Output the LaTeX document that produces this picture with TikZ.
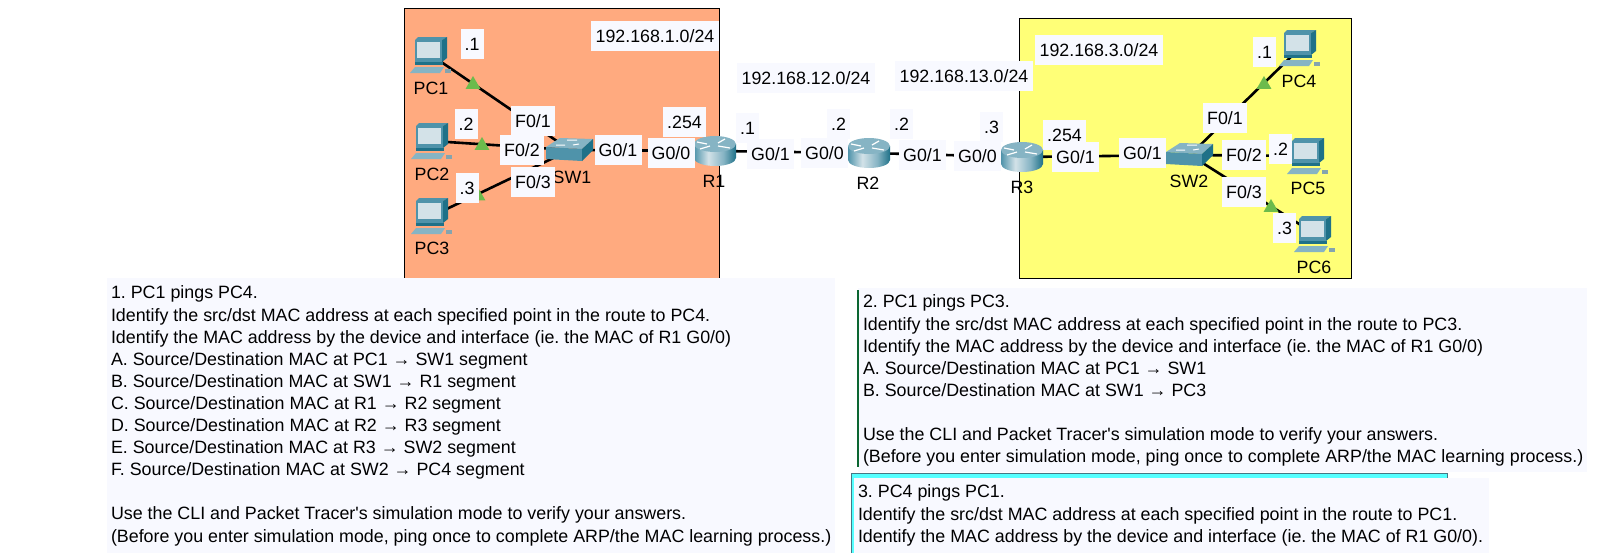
\documentclass[tikz,border=0pt]{standalone}
\usepackage{fontspec}
\setmainfont{Liberation Sans}
\usetikzlibrary{shapes.geometric}
\definecolor{OrangeClr}{HTML}{FFAA7F}
\definecolor{YellowClr}{HTML}{FFFF77}
\definecolor{PanelClr}{HTML}{F8F9FF}
\definecolor{CyanClr}{HTML}{55FFFF}
\definecolor{UpClr}{HTML}{6CBB4C}
\definecolor{TealDk}{HTML}{1F7188}
\definecolor{TealMd}{HTML}{4F93AA}
\definecolor{TealLt}{HTML}{86B4C4}
\definecolor{ScreenClr}{HTML}{D3E2E8}
\pgfdeclarehorizontalshading{routerbody}{100bp}{color(0bp)=(TealMd); color(25bp)=(TealMd); color(42bp)=(ScreenClr); color(60bp)=(TealLt); color(75bp)=(TealDk); color(100bp)=(TealDk)}
\tikzset{
  pcicon/.pic={
    \fill[TealMd] (-16,-15) -- (-13,-18) -- (16,-18) -- (11,-15) -- cycle;
    \fill[TealDk] (11,-15) -- (16,-18) -- (16,3) -- (11,7) -- cycle;
    \fill[TealMd] (-16,-15) rectangle (11,7);
    \fill[ScreenClr] (-14,-13) rectangle (9,3);
    \fill[TealDk] (-16,7) -- (12,7) -- (12,10) -- (-16,10) -- cycle;
    \fill[TealLt] (-16,12) -- (13,12) -- (9,18) -- (-21,18) -- cycle;
    \fill[TealLt!70!gray] (14,14) rectangle (20,18);
  },
  routericon/.pic={
    \shade[shading=routerbody] (-21,-7) -- (-21,7) arc[start angle=180,end angle=0,x radius=21,y radius=8] -- (21,-7) -- cycle;
    \fill[TealLt] (0,-7) ellipse[x radius=21,y radius=8];
    \draw[white,line width=1.2pt] (-18,-9) -- (-8,-7) (3,-8) -- (10,-12) (-15,-2) -- (-5,-5) (3,-5) -- (15,-3);
  },
  switchicon/.pic={
    \fill[TealLt] (-24,-3) -- (-10,-12) -- (23,-11) -- (12,-1) -- cycle;
    \fill[TealMd] (-24,-3) -- (12,-1) -- (12,11) -- (-24,9) -- cycle;
    \fill[TealDk] (12,-1) -- (23,-11) -- (23,0) -- (12,11) -- cycle;
    \draw[white,line width=1pt] (-3,-10) -- (7,-10) (-14,-5) -- (-5,-5) (3,-5) -- (9,-6);
  }
}

\begin{document}
\begin{tikzpicture}[x=1pt,y=-1pt,
  every node/.style={inner sep=0pt,outer sep=0pt,font=\fontsize{17.8}{20}\selectfont},
  lanbox/.style={draw=black,line width=1pt,anchor=north west},
  panel/.style={fill=PanelClr,anchor=north west},
  tasktext/.style={anchor=north west,align=left,font=\fontsize{17.85}{22.1}\selectfont\frenchspacing},
  devspot/.style={minimum size=6pt},
  link/.style={line width=2.6pt,color=black},
  linkup/.style={regular polygon,regular polygon sides=3,minimum size=17pt,fill=UpClr},
  tag/.style={fill=PanelClr,minimum height=30pt},
  iptag/.style={tag,minimum width=23pt},
  porttag/.style={tag,minimum width=44pt},
  gigtag/.style={tag,minimum width=47pt},
  nettag/.style={tag,minimum width=128pt}]
\useasboundingbox (0,0) rectangle (1600,552);

% the two LANs
\node[lanbox,fill=OrangeClr,minimum width=315pt,minimum height=285pt] (lanA) at (404,8) {};
\node[lanbox,fill=YellowClr,minimum width=332pt,minimum height=260pt] (lanC) at (1019,18) {};

% devices, links go underneath
\node[devspot] (PC1) at (431,55) {};
\node[devspot] (PC2) at (432,141) {};
\node[devspot] (PC3) at (432,216) {};
\node[devspot] (SW1) at (570,150) {};
\node[devspot] (R1) at (715,151) {};
\node[devspot] (R2) at (869,153) {};
\node[devspot] (R3) at (1022,157) {};
\node[devspot] (SW2) at (1190,155) {};
\node[devspot] (PC4) at (1300,48) {};
\node[devspot] (PC5) at (1308,156) {};
\node[devspot] (PC6) at (1315,234) {};

\draw[link] (PC1) -- (SW1);
\draw[link] (PC2) -- (SW1);
\draw[link] (PC3) -- (SW1);
\draw[link] (SW1) -- (R1);
\draw[link] (R1) -- (R2);
\draw[link] (R2) -- (R3);
\draw[link] (R3) -- (SW2);
\draw[link] (SW2) -- (PC4);
\draw[link] (SW2) -- (PC5);
\draw[link] (SW2) -- (PC6);

\node[linkup] (up1) at (473,84.5) {};
\node[linkup] (up2) at (482,145.5) {};
\node[linkup] (up3) at (478,196) {};
\node[linkup] (up4) at (1264,84.5) {};
\node[linkup] (up6) at (1271,207.5) {};

\pic at (PC1) {pcicon};
\pic at (PC2) {pcicon};
\pic at (PC3) {pcicon};
\pic at (PC4) {pcicon};
\pic at (PC5) {pcicon};
\pic at (PC6) {pcicon};
\pic at (SW1) {switchicon};
\pic at (SW2) {switchicon};
\pic at (R1) {routericon};
\pic at (R2) {routericon};
\pic at (R3) {routericon};

% device names
\node (namePC1) at (431,88) {PC1};
\node (namePC2) at (432,174) {PC2};
\node (namePC3) at (432,248) {PC3};
\node (nameSW1) at (572,177) {SW1};
\node (nameR1) at (714,181) {R1};
\node (nameR2) at (868,183) {R2};
\node (nameR3) at (1022,187) {R3};
\node (nameSW2) at (1189,181) {SW2};
\node (namePC4) at (1299,81) {PC4};
\node (namePC5) at (1308,188) {PC5};
\node (namePC6) at (1314,267) {PC6};

% address and port tags
\node[nettag] (netA) at (655,36) {192.168.1.0/24};
\node[nettag,minimum width=138pt] (netB) at (806,78) {192.168.12.0/24};
\node[nettag,minimum width=138pt] (netD) at (964,76) {192.168.13.0/24};
\node[nettag] (netC) at (1099,50) {192.168.3.0/24};

\node[iptag] (ipPC1) at (472,44) {.1};
\node[iptag] (ipPC2) at (466,124) {.2};
\node[iptag] (ipPC3) at (467,188) {.3};
\node[iptag,minimum width=43pt] (ipRa) at (684.5,122) {.254};
\node[iptag] (ipRb) at (747.5,128) {.1};
\node[iptag] (ipRc) at (838.5,124) {.2};
\node[iptag] (ipRd) at (901.5,124) {.2};
\node[iptag] (ipRe) at (991.5,127) {.3};
\node[iptag,minimum width=43pt] (ipRf) at (1064.5,135) {.254};
\node[iptag] (ipPC4) at (1264.5,52) {.1};
\node[iptag] (ipPC5) at (1280.5,149) {.2};
\node[iptag] (ipPC6) at (1284.5,228) {.3};

\node[porttag] (swAa) at (533,121) {F0/1};
\node[porttag] (swAb) at (522,150) {F0/2};
\node[porttag] (swAc) at (533,182) {F0/3};
\node[gigtag] (swAd) at (618,150) {G0/1};
\node[gigtag] (rAa) at (671,153) {G0/0};
\node[gigtag] (rAb) at (770.5,154) {G0/1};
\node[gigtag] (rBa) at (824.5,153) {G0/0};
\node[gigtag] (rBb) at (922.5,155) {G0/1};
\node[gigtag] (rCa) at (977.5,156) {G0/0};
\node[gigtag] (rCb) at (1075.5,157) {G0/1};
\node[gigtag] (swBd) at (1142.5,153) {G0/1};
\node[porttag] (swBa) at (1225,118) {F0/1};
\node[porttag] (swBb) at (1244,155) {F0/2};
\node[porttag] (swBc) at (1244,192) {F0/3};

% task panels
\node[panel,minimum width=728pt,minimum height=278pt] (panelA) at (107,278) {};
\node[panel,minimum width=729pt,minimum height=184pt] (panelB) at (858,288) {};
\draw[color=TealDk!60!green!60!black,line width=1.2pt] (858,290) -- (858,467);
\node[anchor=north west,fill=CyanClr,draw=TealDk!60!gray,line width=1pt,minimum width=596pt,minimum height=90pt] (frameC) at (851,473) {};
\node[panel,minimum width=635pt,minimum height=78pt] (panelC) at (854,478) {};

\node[tasktext] (taskA) at (111,286) {1. PC1 pings PC4.\\
Identify the src/dst MAC address at each specified point in the route to PC4.\\
Identify the MAC address by the device and interface (ie. the MAC of R1 G0/0)\\
A. Source/Destination MAC at PC1 → SW1 segment\\
B. Source/Destination MAC at SW1 → R1 segment\\
C. Source/Destination MAC at R1 → R2 segment\\
D. Source/Destination MAC at R2 → R3 segment\\
E. Source/Destination MAC at R3 → SW2 segment\\
F. Source/Destination MAC at SW2 → PC4 segment\\
\mbox{}\\
Use the CLI and Packet Tracer\textquotesingle s simulation mode to verify your answers.\\
(Before you enter simulation mode, ping once to complete ARP/the MAC learning process.)};
\node[tasktext] (taskB) at (863,295) {2. PC1 pings PC3.\\
Identify the src/dst MAC address at each specified point in the route to PC3.\\
Identify the MAC address by the device and interface (ie. the MAC of R1 G0/0)\\
A. Source/Destination MAC at PC1 → SW1\\
B. Source/Destination MAC at SW1 → PC3\\
\mbox{}\\
Use the CLI and Packet Tracer\textquotesingle s simulation mode to verify your answers.\\
(Before you enter simulation mode, ping once to complete ARP/the MAC learning process.)};
\node[tasktext] (taskC) at (858,485) {3. PC4 pings PC1.\\
Identify the src/dst MAC address at each specified point in the route to PC1.\\
Identify the MAC address by the device and interface (ie. the MAC of R1 G0/0).};

\end{tikzpicture}
\end{document}
